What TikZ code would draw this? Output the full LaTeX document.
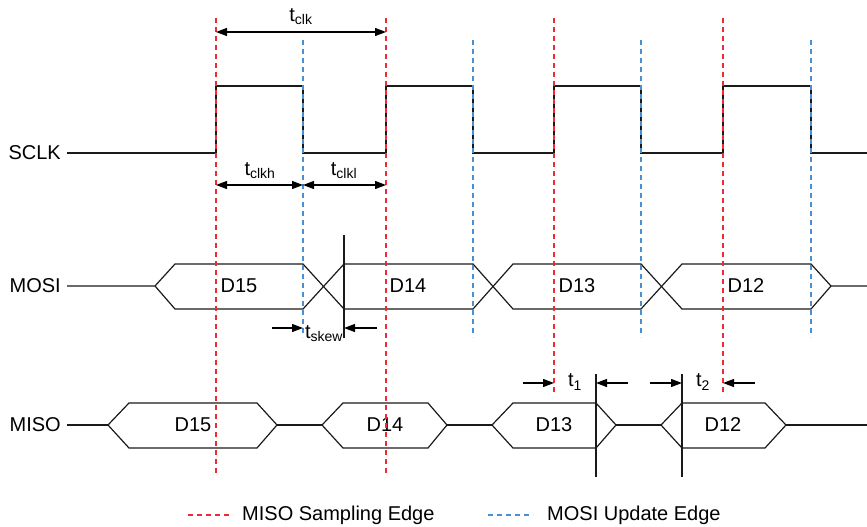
\documentclass[tikz,border=0pt]{standalone}
\usepackage{fontspec}
\setmainfont{Liberation Sans}
\usetikzlibrary{arrows.meta}
\definecolor{sampred}{HTML}{EE2A35}
\definecolor{updblue}{HTML}{4A8FD0}
\definecolor{wave}{HTML}{1A1A1A}
\begin{document}
\begin{tikzpicture}[x=1pt,y=-1pt,
  sig/.style={wave, line width=1.2pt, line join=miter},
  samp/.style={sampred, line width=1.3pt, dash pattern=on 5pt off 4pt},
  upd/.style={updblue, line width=1.3pt, dash pattern=on 5pt off 4pt},
  tip/.tip={Triangle[length=11pt,width=8pt]},
  dimarrow/.style={line width=1.2pt, tip-tip},
  onearrow/.style={line width=1.2pt, -tip},
  lbl/.style={font=\fontsize{20}{23}\selectfont, inner sep=0pt},
  tlbl/.style={font=\fontsize{20}{23}\selectfont, inner sep=0pt},
]
\useasboundingbox (0,0) rectangle (867,527);

% signal names
\node[lbl, anchor=east] (nsclk) at (61,153) {SCLK};
\node[lbl, anchor=east] (nmosi) at (61,286) {MOSI};
\node[lbl, anchor=east] (nmiso) at (61,425) {MISO};

% SCLK waveform
\draw[sig] (67,153) -- (216,153) -- (216,86) -- (303,86) -- (303,153) -- (386,153)
  -- (386,86) -- (473,86) -- (473,153) -- (554,153) -- (554,86) -- (641,86)
  -- (641,153) -- (723,153) -- (723,86) -- (811,86) -- (811,153) -- (867,153);

% MOSI waveform
\draw[sig] (67,286) -- (155,286) -- (175,264) -- (303,264) -- (344,309) -- (473,309)
  -- (513,264) -- (641,264) -- (682,309) -- (811,309) -- (831,286) -- (867,286);
\draw[sig] (155,286) -- (175,309) -- (303,309) -- (344,264) -- (473,264)
  -- (513,309) -- (641,309) -- (682,264) -- (811,264) -- (831,286);
\draw[sig] (344,235) -- (344,338);

% MISO waveform
\draw[sig] (67,425) -- (108,425);
\draw[sig] (108,425) -- (129,403) -- (257,403) -- (277,425) -- (257,448) -- (129,448) -- cycle;
\draw[sig] (277,425) -- (322,425);
\draw[sig] (322,425) -- (343,403) -- (428,403) -- (447,425) -- (428,448) -- (343,448) -- cycle;
\draw[sig] (447,425) -- (492,425);
\draw[sig] (492,425) -- (513,403) -- (596,403) -- (616,425) -- (596,448) -- (513,448) -- cycle;
\draw[sig] (616,425) -- (661,425);
\draw[sig] (661,425) -- (682,403) -- (765,403) -- (786,425) -- (765,448) -- (682,448) -- cycle;
\draw[sig] (786,425) -- (867,425);
\draw[sig] (596,374) -- (596,477);
\draw[sig] (682,374) -- (682,477);

% data labels
\node[lbl] (m15) at (239,286) {D15};
\node[lbl] (m14) at (408,286) {D14};
\node[lbl] (m13) at (577,286) {D13};
\node[lbl] (m12) at (746,286) {D12};
\node[lbl] (s15) at (193,425) {D15};
\node[lbl] (s14) at (385,425) {D14};
\node[lbl] (s13) at (554,425) {D13};
\node[lbl] (s12) at (723,425) {D12};

% edge markers
\foreach \x in {216,386} \draw[samp] (\x,18) -- (\x,473);
\foreach \x in {554,723} \draw[samp] (\x,18) -- (\x,392);
\foreach \x in {303,473,641,811} \draw[upd] (\x,40) -- (\x,337);

% timing dimensions
\coordinate (c1) at (216,32); \coordinate (c2) at (386,32);
\draw[dimarrow] (c1) -- (c2);
\node[tlbl] (tclk) at (301,17) {t\textsubscript{clk}};
\coordinate (h1) at (216,185); \coordinate (h2) at (303,185); \coordinate (h3) at (386,185);
\draw[dimarrow] (h1) -- (h2);
\draw[dimarrow] (h2) -- (h3);
\node[tlbl] (tclkh) at (260,171) {t\textsubscript{clkh}};
\node[tlbl] (tclkl) at (344,171) {t\textsubscript{clkl}};

\coordinate (k0) at (272,328); \coordinate (k1) at (303,328);
\coordinate (k2) at (344,328); \coordinate (k3) at (377,328);
\draw[onearrow] (k0) -- (k1);
\draw[onearrow] (k3) -- (k2);
\node[tlbl] (tskew) at (324,334) {t\textsubscript{skew}};

\coordinate (a0) at (523,383); \coordinate (a1) at (554,383);
\coordinate (a2) at (596,383); \coordinate (a3) at (628,383);
\draw[onearrow] (a0) -- (a1);
\draw[onearrow] (a3) -- (a2);
\node[tlbl] (t1) at (575,382) {t\textsubscript{1}};
\coordinate (b0) at (650,383); \coordinate (b1) at (682,383);
\coordinate (b2) at (723,383); \coordinate (b3) at (755,383);
\draw[onearrow] (b0) -- (b1);
\draw[onearrow] (b3) -- (b2);
\node[tlbl] (t2) at (703,382) {t\textsubscript{2}};

% legend
\draw[samp] (188,515) -- (233,515);
\node[lbl, anchor=west] (legs) at (242,515) {MISO Sampling Edge};
\draw[upd] (488,515) -- (533,515);
\node[lbl, anchor=west] (legu) at (547,515) {MOSI Update Edge};
\end{tikzpicture}
\end{document}
